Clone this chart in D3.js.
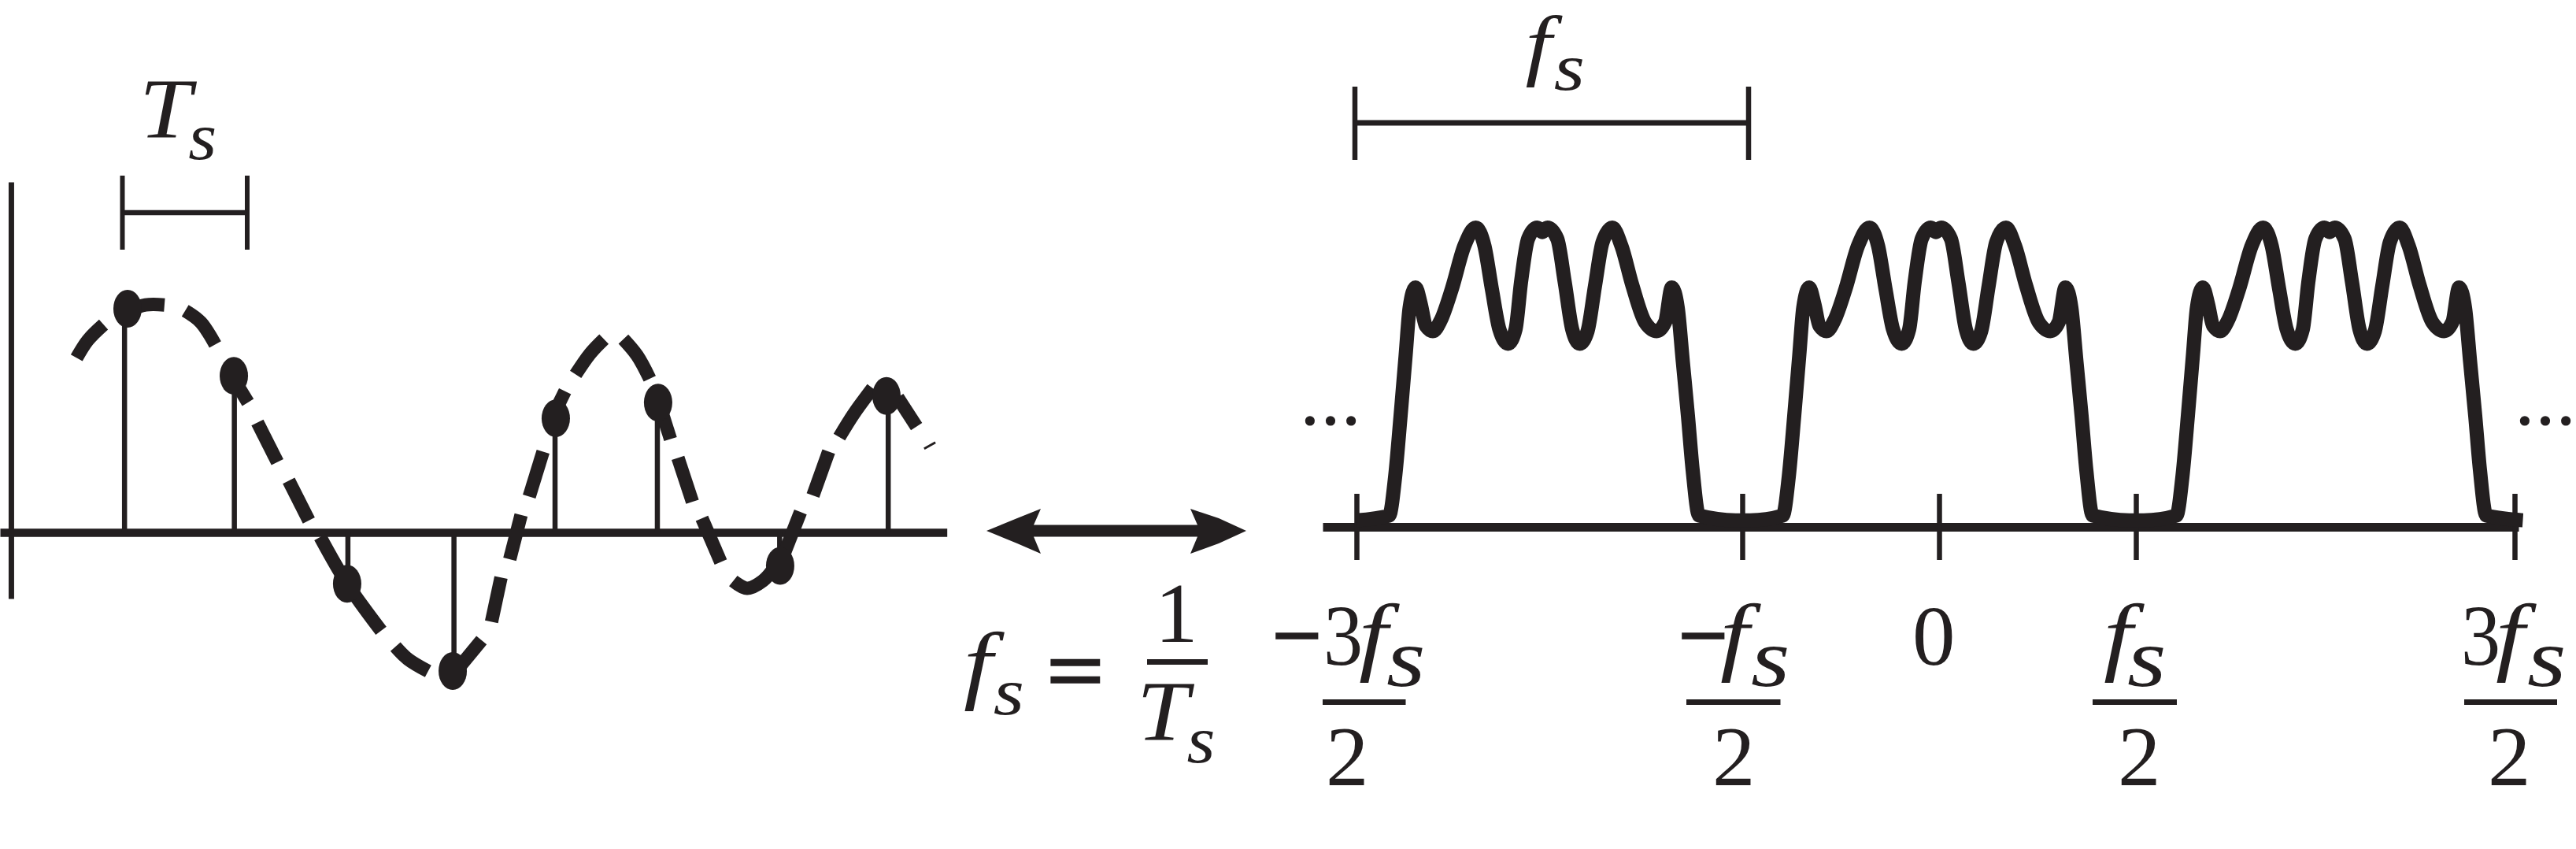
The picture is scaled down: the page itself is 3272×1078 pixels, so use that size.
<!DOCTYPE html>
<html>
<head>
<meta charset="utf-8">
<script src="https://cdn.jsdelivr.net/npm/d3@7"></script>
<style>
    html, body { margin: 0; padding: 0; background: #fff; }
    svg { display: block; }
    text { font-family: "Liberation Serif", serif; fill: #231f20; }
</style>
</head>
<body>
<div id="chart"></div>
<script>
var ink = "#231f20";

// sampled signal, t in units of Ts, amplitude relative to the first sample
var sampleT = [0.91, 1.79, 2.70, 3.55, 4.36, 5.18, 6.16, 7.03];
var dotT = [0.934, 1.786, 2.694, 3.54, 4.366, 5.186, 6.164, 7.016];
var sampleA = [1.0, 0.70, -0.23, -0.62, 0.51, 0.58, -0.15, 0.61];

// the dashes of the analog signal, each one is a list of [t, a]
var dashes = [
    [[0.526, 0.780], [0.616, 0.859], [0.742, 0.929]],
    [[0.943, 0.991], [1.079, 1.017], [1.230, 1.017]],
    [[1.396, 0.991], [1.522, 0.939], [1.637, 0.840]],
    [[1.824, 0.650], [1.899, 0.581]],
    [[1.975, 0.491], [2.135, 0.314]],
    [[2.226, 0.231], [2.387, 0.053]],
    [[2.478, -0.021], [2.694, -0.230], [2.966, -0.440]],
    [[3.081, -0.511], [3.182, -0.567], [3.343, -0.621]],
    [[3.585, -0.608], [3.771, -0.482]],
    [[3.851, -0.400], [3.927, -0.202]],
    [[3.997, -0.120], [4.088, 0.078]],
    [[4.153, 0.160], [4.264, 0.361]],
    [[4.379, 0.562], [4.440, 0.631]],
    [[4.525, 0.706], [4.641, 0.799], [4.752, 0.864]],
    [[4.908, 0.864], [5.019, 0.790], [5.119, 0.687]],
    [[5.195, 0.575], [5.285, 0.417]],
    [[5.345, 0.333], [5.461, 0.137]],
    [[5.537, 0.063], [5.688, -0.133]],
    [[5.788, -0.217], [5.899, -0.250], [6.025, -0.217], [6.125, -0.152]],
    [[6.176, -0.124], [6.327, 0.091]],
    [[6.427, 0.165], [6.553, 0.361]],
    [[6.638, 0.426], [6.754, 0.530], [6.905, 0.645]],
    [[7.106, 0.603], [7.257, 0.473]]
];
var lastDash = [[7.318, 0.374], [7.408, 0.402]];

// one period of the spectrum, f in units of fs
var specF = [-0.480, -0.397, -0.382, -0.368, -0.355, -0.345, -0.330, -0.317, -0.304, -0.286, -0.266, -0.238,
    -0.206, -0.177, -0.155, -0.136, -0.117, -0.095, -0.076, -0.062, -0.044, -0.021, -0.008, 0.005, 0.030,
    0.049, 0.068, 0.087, 0.107, 0.126, 0.145, 0.170, 0.193, 0.221, 0.253, 0.283, 0.304,
    0.321, 0.336, 0.349, 0.362, 0.374, 0.390, 0.483];
var specM = [0.022, 0.038, 0.166, 0.371, 0.576, 0.733, 0.800, 0.746, 0.672, 0.654, 0.690, 0.794,
    0.939, 1.0, 0.939, 0.794, 0.660, 0.612, 0.660, 0.818, 0.963, 1.0, 0.985, 1.0, 0.963,
    0.818, 0.660, 0.612, 0.654, 0.806, 0.951, 1.0, 0.939, 0.806, 0.684, 0.654, 0.684,
    0.800, 0.733, 0.552, 0.371, 0.190, 0.038, 0.022];
var periods = [-1, 0, 1];

var freqTicks = [-1.48, -0.5, 0, 0.5, 1.462];

var width = 3272, height = 1078;

var svg = d3.select("#chart").append("svg")
    .attr("width", width)
    .attr("height", height)
    .attr("viewBox", "0 0 " + width + " " + height);

var t = d3.scaleLinear().domain([-0.088, 7.5]).range([0, 1202.7]);
var a = d3.scaleLinear().domain([-0.296, 1.567]).range([760, 231]);
var f = d3.scaleLinear().domain([-1.566, 1.472]).range([1680, 3199]);
var m = d3.scaleLinear().domain([0, 1]).range([669, 289]);

// sx stretches the glyph sideways, the original face is wider than Liberation
var label = function(txt, x, y, size, italic, sx) {
    return svg.append("text")
        .attr("transform", "translate(" + x + "," + y + ") scale(" + (sx || 1) + ",1)")
        .attr("font-size", size)
        .attr("font-style", italic ? "italic" : "normal")
        .text(txt);
};

// a letter with its s right after it, kept in one text
var withS = function(txt, x, y, size, sx, dx, dy, sSize) {
    label(txt, x, y, size, true, sx).append("tspan")
        .attr("dx", dx)
        .attr("dy", dy)
        .attr("font-size", sSize)
        .text("s");
};

var hline = function(x1, x2, y, w) {
    svg.append("line")
        .attr("x1", x1).attr("x2", x2)
        .attr("y1", y).attr("y2", y)
        .attr("stroke", ink)
        .attr("stroke-width", w);
};

var vline = function(x, y1, y2, w) {
    svg.append("line")
        .attr("x1", x).attr("x2", x)
        .attr("y1", y1).attr("y2", y2)
        .attr("stroke", ink)
        .attr("stroke-width", w);
};

var thick = function(sel, w) {
    sel.attr("stroke", ink).attr("stroke-width", w);
};

// ---- left panel: the samples

var timeAxis = svg.append("g")
    .attr("transform", "translate(0," + a(0) + ")")
    .call(d3.axisBottom(t).tickValues([]).tickSizeOuter(0));
timeAxis.select(".domain").attr("stroke", ink).attr("stroke-width", 10.5);

var ampAxis = svg.append("g")
    .attr("transform", "translate(" + t(0) + ",0)")
    .call(d3.axisLeft(a).tickValues([]).tickSizeOuter(0));
ampAxis.select(".domain").attr("stroke", ink).attr("stroke-width", 7);

svg.selectAll("line.stem")
    .data(sampleT)
    .enter().append("line")
    .attr("class", "stem")
    .attr("x1", function(d) { return t(d); })
    .attr("x2", function(d) { return t(d); })
    .attr("y1", a(0))
    .attr("y2", function(d, i) { return a(sampleA[i]); })
    .attr("stroke", ink)
    .attr("stroke-width", 6.5);

var dashLine = d3.line()
    .x(function(d) { return t(d[0]); })
    .y(function(d) { return a(d[1]); })
    .curve(d3.curveCatmullRom);

svg.selectAll("path.dash")
    .data(dashes)
    .enter().append("path")
    .attr("class", "dash")
    .attr("d", dashLine)
    .attr("fill", "none")
    .attr("stroke", ink)
    .attr("stroke-width", 17);

svg.append("path")
    .attr("d", dashLine(lastDash))
    .attr("fill", "none")
    .attr("stroke", ink)
    .attr("stroke-width", 3);

svg.selectAll("ellipse.sample")
    .data(dotT)
    .enter().append("ellipse")
    .attr("class", "sample")
    .attr("cx", function(d) { return t(d); })
    .attr("cy", function(d, i) { return a(sampleA[i]); })
    .attr("rx", 18)
    .attr("ry", 24)
    .attr("fill", ink);

// Ts bracket
var tsStart = 0.893;
vline(t(tsStart), 223, 317, 6);
vline(t(tsStart + 1), 223, 317, 6);
hline(t(tsStart), t(tsStart + 1), 270, 6.5);
withS("T", 177, 174, 108, 1.1, -3.4, 28, 84);

// ---- middle: double arrow and fs = 1/Ts

var arrowY = 674;
var arrow = d3.path();
arrow.moveTo(1253, arrowY);
arrow.lineTo(1292, arrowY - 16);
arrow.lineTo(1322, arrowY - 28);
arrow.lineTo(1313, arrowY - 7.5);
arrow.lineTo(1521, arrowY - 7.5);
arrow.lineTo(1512, arrowY - 28);
arrow.lineTo(1548, arrowY - 16);
arrow.lineTo(1583, arrowY);
arrow.lineTo(1548, arrowY + 16);
arrow.lineTo(1512, arrowY + 29);
arrow.lineTo(1521, arrowY + 7.5);
arrow.lineTo(1313, arrowY + 7.5);
arrow.lineTo(1322, arrowY + 29);
arrow.lineTo(1292, arrowY + 16);
arrow.closePath();
svg.append("path").attr("d", arrow.toString()).attr("fill", ink);

withS("f", 1224, 880, 110, 1.2, 1, 27, 84);
thick(label("=", 1322, 889, 110, true, 1.15), 3.5);
label("1", 1467, 815, 109, false);
hline(1457, 1534, 840.5, 7);
withS("T", 1444, 939, 108, 1.1, -2.4, 29, 84);

// ---- right panel: the spectrum

var freqAxis = svg.append("g")
    .attr("transform", "translate(0," + m(0) + ")")
    .call(d3.axisBottom(f).tickValues(freqTicks).tickFormat("").tickSizeOuter(0));
freqAxis.select(".domain").attr("stroke", ink).attr("stroke-width", 11);
freqAxis.selectAll(".tick line")
    .attr("y1", -42)
    .attr("y2", 42)
    .attr("stroke", ink)
    .attr("stroke-width", 6.5);

var specPoints = [];
periods.forEach(function(k) {
    specF.forEach(function(d, i) {
        specPoints.push([d + k, specM[i]]);
    });
});

svg.append("path")
    .attr("d", d3.line()
        .x(function(d) { return f(d[0]); })
        .y(function(d) { return m(d[1]); })
        .curve(d3.curveMonotoneX)(specPoints))
    .attr("fill", "none")
    .attr("stroke", ink)
    .attr("stroke-width", 18)
    .attr("stroke-linejoin", "round");

// fs bracket
var fsStart = -1.484;
vline(f(fsStart), 110, 203, 6.5);
vline(f(fsStart + 1), 110, 203, 6.5);
hline(f(fsStart), f(fsStart + 1), 156, 7);
withS("f", 1937.5, 89.5, 100, 1.2, 2.5, 24.5, 84);

// continuation dots
thick(label("\u2026", 1651, 538, 78, false), 3);
thick(label("\u2026", 3194, 538, 78, false), 3);

// tick labels
thick(label("\u2212", 1616, 844, 110, false), 3);
label("3", 1681, 844, 109, false, 0.92);
withS("f", 1726, 844, 110, 1.2, -1.4, 27, 106);
hline(1680, 1785.5, 891.5, 7);
label("2", 1684, 997, 109, false);

thick(label("\u2212", 2132, 844, 110, false), 3);
withS("f", 2185, 844, 110, 1.2, 2, 27, 106);
hline(2142, 2261.5, 891.5, 7);
label("2", 2175, 997, 109, false);

label("0", 2429, 844, 109, false);

withS("f", 2672, 844, 110, 1.2, -5.6, 27, 106);
hline(2658, 2765, 891.5, 7);
label("2", 2690, 997, 109, false);

label("3", 3126, 844, 109, false, 0.92);
withS("f", 3170, 844, 110, 1.2, 2.8, 27, 106);
hline(3130, 3248, 891.5, 7);
label("2", 3160, 997, 109, false);
</script>
</body>
</html>
